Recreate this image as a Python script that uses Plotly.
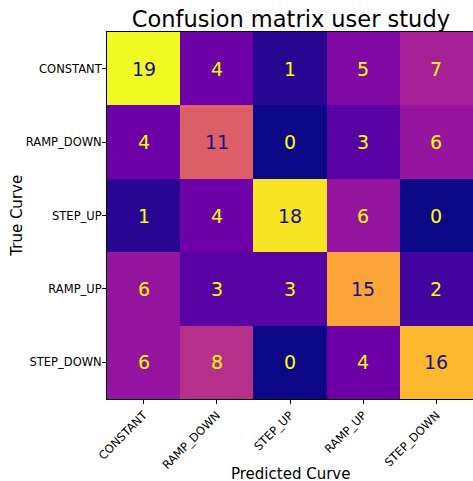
import plotly.graph_objects as go

labels = ["CONSTANT", "RAMP_DOWN", "STEP_UP", "RAMP_UP", "STEP_DOWN"]
counts = [
    [19, 4, 1, 5, 7],
    [4, 11, 0, 3, 6],
    [1, 4, 18, 6, 0],
    [6, 3, 3, 15, 2],
    [6, 8, 0, 4, 16],
]
title = "Confusion matrix user study"
x_title = "Predicted Curve"
y_title = "True Curve"

zmax = max(max(r) for r in counts)
thresh = zmax / 2.0

fig = go.Figure(go.Heatmap(
    z=counts, x=labels, y=labels, colorscale="Plasma", zmin=0, zmax=zmax,
    showscale=False, xgap=0, ygap=0, hoverinfo="skip",
))

for i, row in enumerate(counts):
    for j, v in enumerate(row):
        fig.add_annotation(
            x=labels[j], y=labels[i], text=str(v), showarrow=False,
            font=dict(family="DejaVu Sans", size=19,
                      color="#14148a" if v > thresh else "#ffff00"),
        )

axis_common = dict(
    showline=True, linecolor="black", linewidth=1, mirror=True,
    ticks="outside", ticklen=4, tickcolor="black", tickwidth=1,
    showgrid=False, zeroline=False, automargin=False,
    tickfont=dict(family="DejaVu Sans", size=11.5, color="black"),
)

fig.add_annotation(
    text=x_title, xref="paper", yref="paper", x=0.5, y=-0.203,
    xanchor="center", yanchor="middle", showarrow=False,
    font=dict(family="DejaVu Sans", size=15, color="black"),
)
fig.add_annotation(
    text=y_title, xref="paper", yref="paper", x=-0.248, y=0.5,
    xanchor="center", yanchor="middle", showarrow=False, textangle=-90,
    font=dict(family="DejaVu Sans", size=15, color="black"),
)

fig.update_layout(
    width=473, height=481,
    margin=dict(l=107, r=0, t=32, b=82, autoexpand=False),
    paper_bgcolor="white", plot_bgcolor="white",
    title=dict(text=title, x=0.615, xanchor="center", y=0.96, yanchor="middle",
               font=dict(family="DejaVu Sans", size=22.5, color="black")),
    xaxis=dict(**axis_common, tickangle=-45),
    yaxis=dict(**axis_common, autorange="reversed", ticklabelstandoff=-2),
)

fig.write_html(
    "out.html",
    config={"displayModeBar": False},
    post_script="document.body.style.margin='0';document.body.style.padding='0';"
                "document.body.style.overflow='hidden';",
)
